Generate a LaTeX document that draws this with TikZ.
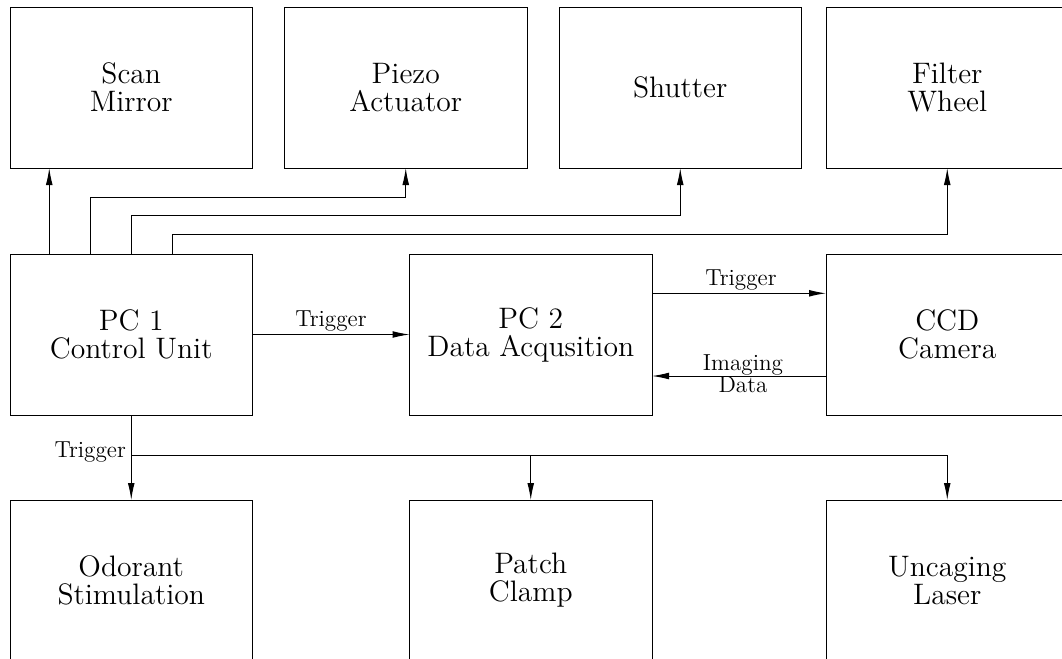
\documentclass[tikz,border=0pt]{standalone}
\usetikzlibrary{arrows.meta}
\begin{document}
\begin{tikzpicture}[x=0.5pt,y=-0.5pt,
  box/.style={draw, line width=0.5pt, minimum width=121.25pt, minimum height=80.5pt,
    inner sep=0pt, outer sep=0pt, align=center, font=\fontsize{14.8}{14}\selectfont, anchor=north west},
  lbl/.style={font=\fontsize{11.6}{11}\selectfont, inner sep=1.5pt, align=center},
  conn/.style={line width=0.5pt, -{Latex[length=8.5pt,width=3.4pt]}}
]
\useasboundingbox (0,0) rectangle (1062,659);
\clip (0,0) rectangle (1062,659);

% top row
\node[box] (scan)    at (10,7)    {Scan\\Mirror};
\node[box] (piezo)   at (284.5,7) {Piezo\\Actuator};
\node[box] (shutter) at (559,7)   {Shutter};
\node[box] (filter)  at (826,7)   {Filter\\Wheel};
% middle row
\node[box] (pc1) at (10,254)  {PC 1\\Control Unit};
\node[box] (pc2) at (409.5,254) {PC 2\\Data Acqusition};
\node[box] (ccd) at (826,254) {CCD\\Camera};
% bottom row
\node[box] (odor)   at (10,500)  {Odorant\\Stimulation};
\node[box] (patch)  at (409.5,500) {Patch\\Clamp};
\node[box] (uncage) at (826,500) {Uncaging\\Laser};

% PC1 to top row
\draw[conn] ([xshift=-41pt]pc1.north) -- ([xshift=-41pt]pc1.north |- scan.south);
\draw[conn] ([xshift=-20.5pt]pc1.north) -- ++(0,-56.5) -| (piezo.south);
\draw[conn] (pc1.north) -- ++(0,-39) -| (shutter.south);
\draw[conn] ([xshift=20.5pt]pc1.north) -- ++(0,-19.5) -| (filter.south);

% middle connections
\draw[conn] (pc1.east) -- node[lbl,above]{Trigger} (pc2.west);
\draw[conn] ([yshift=-19.65pt]pc2.north east) -- node[lbl,above,xshift=1pt]{Trigger} ([yshift=-19.65pt]ccd.north west);
\draw[conn] ([yshift=19.5pt]ccd.south west) -- node[lbl,xshift=2pt,yshift=1pt]{Imaging\\Data} ([yshift=19.5pt]pc2.south east);

% bottom connections
\path (pc1.south) ++(0,40) coordinate (tj);
\draw[conn] (pc1.south) -- (odor.north);
\draw[conn] (tj) -| (uncage.north);
\draw[conn] (tj -| patch.north) -- (patch.north);
\node[lbl, anchor=east] at ([xshift=-1pt,yshift=1.5pt]tj) {Trigger};
\end{tikzpicture}
\end{document}
